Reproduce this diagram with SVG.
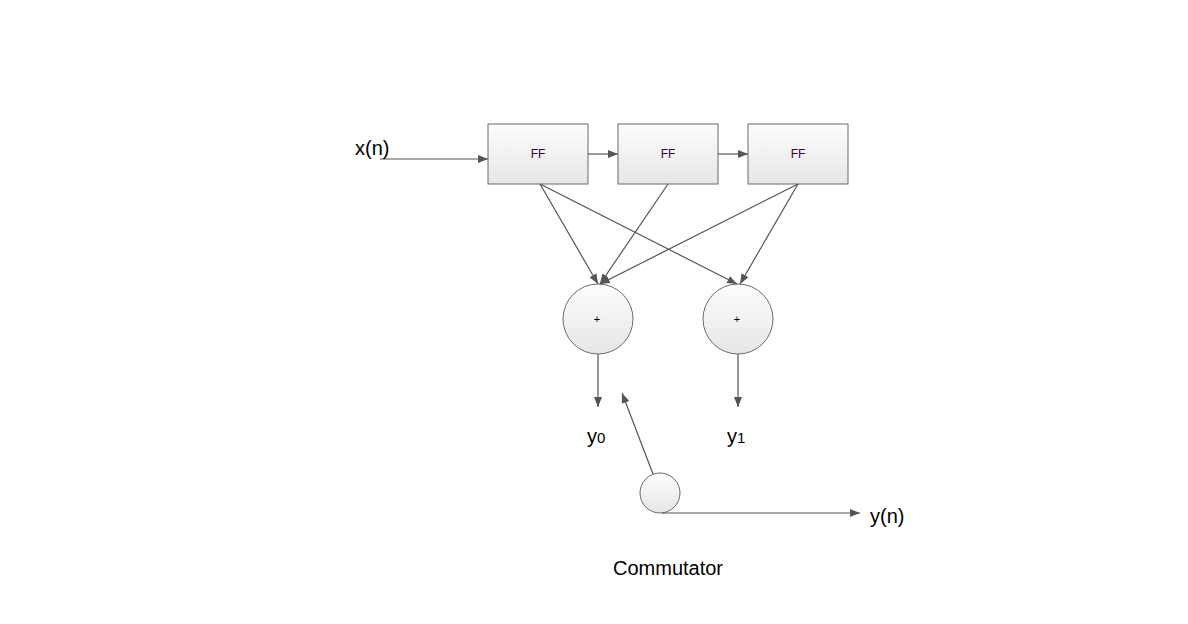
<svg xmlns="http://www.w3.org/2000/svg" width="1188" height="624" viewBox="0 0 1188 624">
<style>
.n{stroke:#6b6b6b;stroke-width:1;fill:url(#g)}
.l{stroke:#555;stroke-width:1.2;fill:none;marker-end:url(#a)}
.t{font-family:"Liberation Sans",Arial,sans-serif;fill:#000}
.s{font-size:12px;fill:#3a0040}
</style>
<defs>
<linearGradient id="g" x1="0" y1="0" x2="0" y2="1"><stop offset="0" stop-color="#fdfdfd"/><stop offset="1" stop-color="#e6e6e6"/></linearGradient>
<marker id="a" viewBox="0 0 10 10" refX="10" refY="5" markerWidth="10" markerHeight="10" markerUnits="userSpaceOnUse" orient="auto"><path d="M0,1 L10,5 L0,9 z" fill="#555"/></marker>
</defs>
<rect width="1188" height="624" fill="#fff"/>
<g id="ff1"><rect class="n" x="488" y="124" width="100" height="60"/><text class="t s" x="538" y="158" text-anchor="middle">FF</text></g>
<g id="ff2"><rect class="n" x="618" y="124" width="100" height="60"/><text class="t s" x="668" y="158" text-anchor="middle">FF</text></g>
<g id="ff3"><rect class="n" x="748" y="124" width="100" height="60"/><text class="t s" x="798" y="158" text-anchor="middle">FF</text></g>
<g id="add0"><circle class="n" cx="598" cy="319" r="35"/><text class="t" x="597" y="323" font-size="11" text-anchor="middle">+</text></g>
<g id="add1"><circle class="n" cx="738" cy="319" r="35"/><text class="t" x="737" y="323" font-size="11" text-anchor="middle">+</text></g>
<g id="comm"><circle class="n" cx="660" cy="493" r="20"/></g>
<g id="connectors">
<line class="l" x1="380" y1="159" x2="488" y2="159"/>
<line class="l" x1="588" y1="154" x2="618" y2="154"/>
<line class="l" x1="718" y1="154" x2="748" y2="154"/>
<line class="l" x1="540" y1="184" x2="598" y2="284"/>
<line class="l" x1="540" y1="184" x2="737" y2="284"/>
<line class="l" x1="668" y1="184" x2="600" y2="284"/>
<line class="l" x1="798" y1="184" x2="600" y2="284"/>
<line class="l" x1="798" y1="184" x2="740" y2="284"/>
<line class="l" x1="598" y1="354" x2="598" y2="407"/>
<line class="l" x1="738" y1="354" x2="738" y2="407"/>
<line class="l" x1="653" y1="474" x2="622" y2="393"/>
<line class="l" x1="662" y1="513" x2="860" y2="513"/>
</g>
<g id="labels">
<text class="t" x="355" y="155" font-size="20">x(n)</text>
<text class="t" x="587" y="443" font-size="20">y<tspan font-size="15">0</tspan></text>
<text class="t" x="727" y="443" font-size="20">y<tspan font-size="15">1</tspan></text>
<text class="t" x="870" y="523" font-size="20">y(n)</text>
<text class="t" x="613" y="575" font-size="20">Commutator</text>
</g>
</svg>
